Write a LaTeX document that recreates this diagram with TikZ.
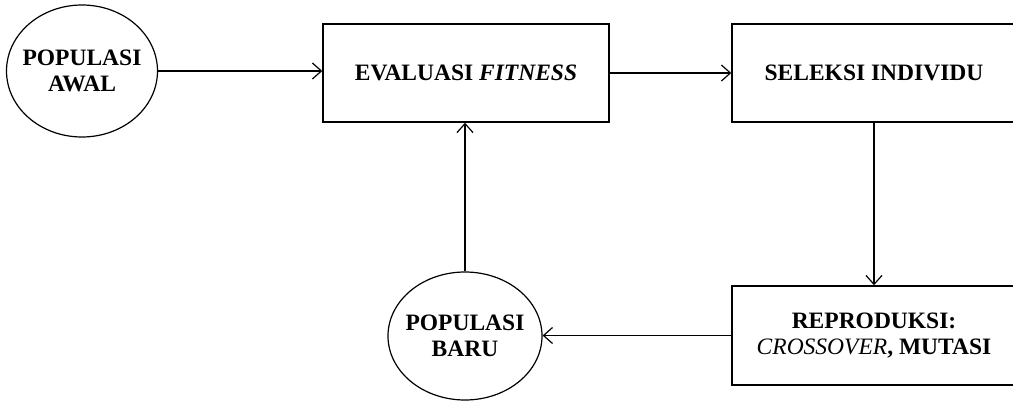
\documentclass[tikz,border=0pt]{standalone}
\usepackage{fontspec}
\setmainfont{Liberation Serif}
\usetikzlibrary{arrows.meta,shapes.geometric}
\tikzset{
  lbl/.style={font=\fontsize{23.5}{26}\selectfont\bfseries, align=center, text=black},
  boxnode/.style={lbl, draw=black, line width=1.4pt, rectangle, inner sep=0pt},
  ellnode/.style={lbl, draw=black, line width=1.2pt, ellipse, inner xsep=-10pt, inner ysep=0pt},
  arr/.style={line width=1.2pt, -{Straight Barb[length=9pt,width=16pt,line width=1.2pt]}}
}
\begin{document}
\begin{tikzpicture}[x=1pt,y=-1pt]
\useasboundingbox (0,0) rectangle (1013,401);
\node[ellnode, minimum width=151pt, minimum height=132pt] (awal) at (82,71) {POPULASI\\AWAL};
\node[boxnode, minimum width=286pt, minimum height=98pt] (eval) at (466,73) {EVALUASI \textit{FITNESS}};
\node[boxnode, minimum width=284pt, minimum height=98pt] (sel) at (874,73) {SELEKSI INDIVIDU};
\node[boxnode, minimum width=284pt, minimum height=99pt] (rep) at (874,335.5) {REPRODUKSI:\\{\mdseries\itshape CROSSOVER}, MUTASI};
\node[ellnode, minimum width=154pt, minimum height=128pt] (baru) at (465,336) {POPULASI\\BARU};
\draw[arr] (awal.east) -- (awal.east -| eval.west);
\draw[arr] (eval.east) -- (sel.west);
\draw[arr] (sel.south) -- (rep.north);
\draw[arr] (rep.west) -- (rep.west -| baru.east);
\draw[arr] (baru.north) -- (baru.north |- eval.south);
\end{tikzpicture}
\end{document}
